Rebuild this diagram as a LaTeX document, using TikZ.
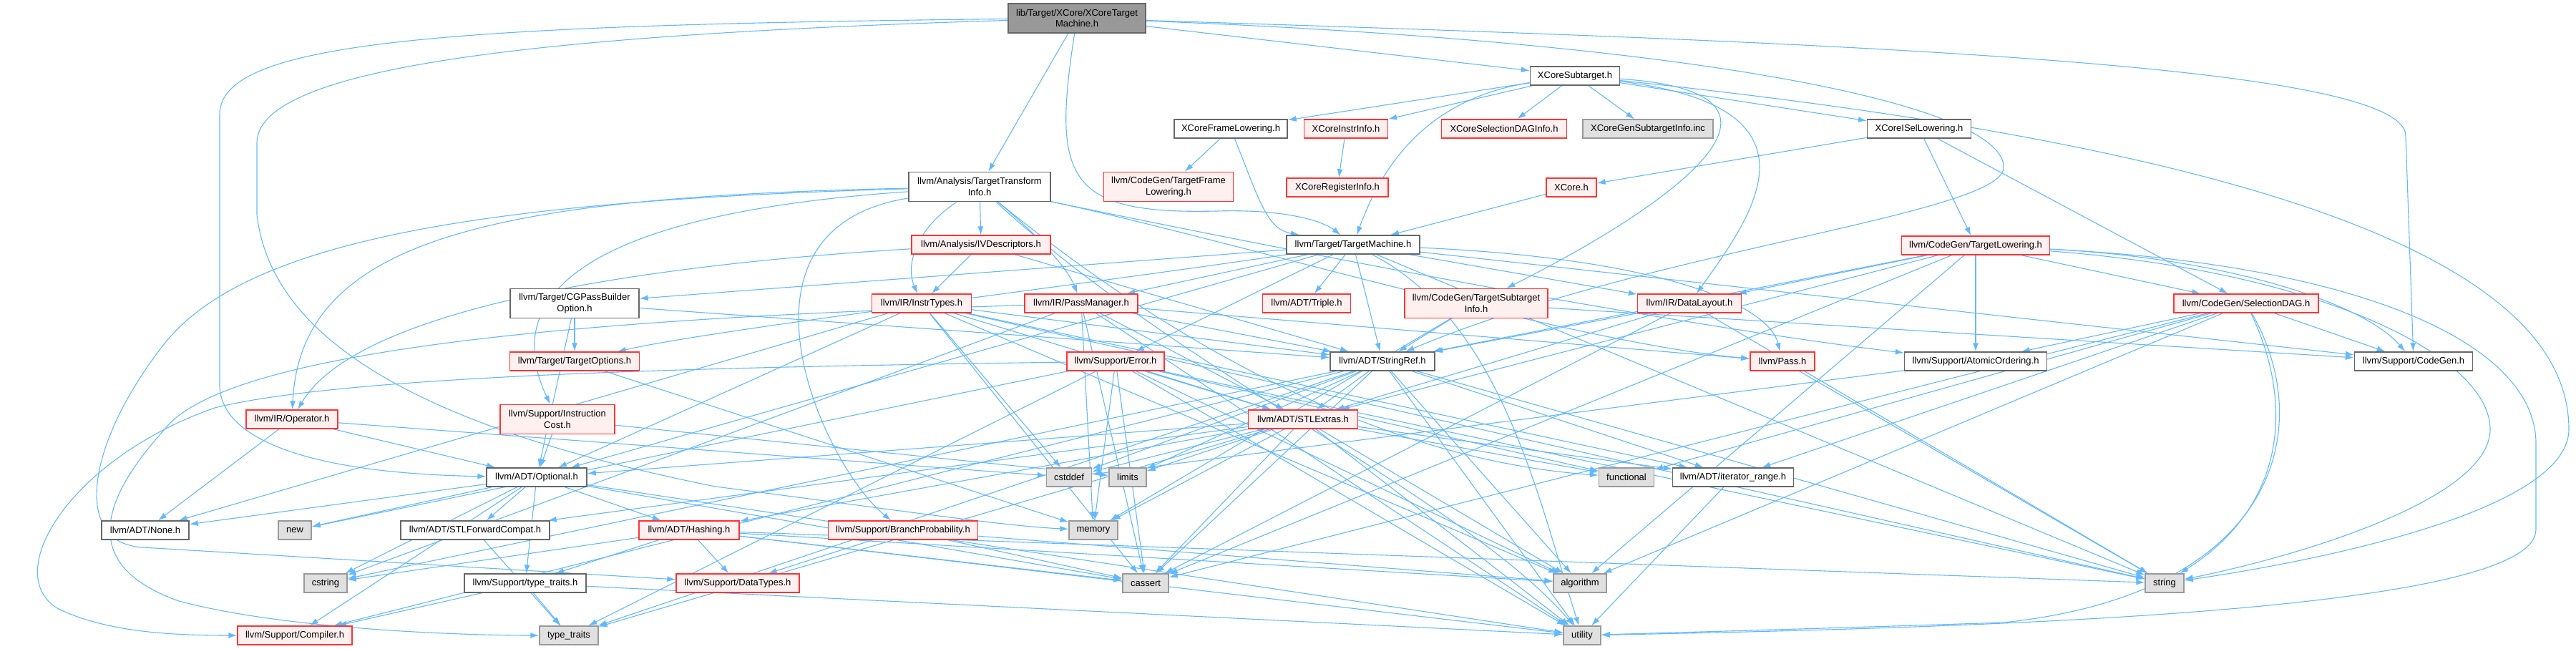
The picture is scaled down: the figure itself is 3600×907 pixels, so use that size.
\documentclass[tikz,border=0pt]{standalone}
\usepackage{fontspec}
\setmainfont{Liberation Sans}
\usetikzlibrary{arrows.meta}
\pgfdeclarelayer{edges}
\pgfsetlayers{edges,main}
\definecolor{edgec}{HTML}{63B8FF}
\definecolor{redf}{HTML}{FFF0F0}
\definecolor{redc}{HTML}{FF3333}
\definecolor{grayf}{HTML}{E0E0E0}
\definecolor{grayc}{HTML}{999999}
\definecolor{darkc}{HTML}{666666}
\definecolor{rootf}{HTML}{999999}
\begin{document}
\begin{tikzpicture}[x=1pt,y=-1pt,
  nd/.style={draw, rectangle, line width=1.3pt, inner sep=0pt, minimum height=26pt,
     font=\fontsize{13}{15.5}\selectfont, align=center},
  wb/.style={nd, fill=white, draw=darkc},
  rb/.style={nd, fill=redf, draw=redc},
  gb/.style={nd, fill=grayf, draw=grayc},
  rt/.style={nd, fill=rootf, draw=darkc},
  two/.style={minimum height=41pt},
  edg/.style={draw=edgec, line width=1.1pt, -{Latex[length=12pt,width=8pt]}}]
\useasboundingbox (0,0) rectangle (3600,907);
% nodes
\node[rt,two,minimum width=192pt] (root) at (1505,25.5) {lib/Target/XCore/XCoreTarget\\Machine.h};
\node[wb,minimum width=125pt] (sub) at (2201,106) {XCoreSubtarget.h};
\node[wb,minimum width=158pt] (xfl) at (1720,180) {XCoreFrameLowering.h};
\node[rb,minimum width=117pt] (xii) at (1881,180) {XCoreInstrInfo.h};
\node[rb,minimum width=175pt] (xsdi) at (2102,180) {XCoreSelectionDAGInfo.h};
\node[gb,minimum width=182pt] (xgen) at (2303,180) {XCoreGenSubtargetInfo.inc};
\node[wb,minimum width=145pt] (xisl) at (2682,180) {XCoreISelLowering.h};
\node[wb,two,minimum width=198pt] (tti) at (1369,261) {llvm/Analysis/TargetTransform\\Info.h};
\node[rb,two,minimum width=181pt] (tfl) at (1633,261) {llvm/CodeGen/TargetFrame\\Lowering.h};
\node[rb,minimum width=142pt] (xri) at (1869,262) {XCoreRegisterInfo.h};
\node[rb,minimum width=70pt] (xcore) at (2196,262) {XCore.h};
\node[rb,minimum width=194pt] (ivd) at (1371,342) {llvm/Analysis/IVDescriptors.h};
\node[wb,minimum width=186pt] (tm) at (1891,342) {llvm/Target/TargetMachine.h};
\node[rb,minimum width=207pt] (tlow) at (2761,343) {llvm/CodeGen/TargetLowering.h};
\node[wb,two,minimum width=180pt] (cgpb) at (803,424) {llvm/Target/CGPassBuilder\\Option.h};
\node[rb,minimum width=139pt] (instr) at (1288,424) {llvm/IR/InstrTypes.h};
\node[rb,minimum width=158pt] (pm) at (1511,424) {llvm/IR/PassManager.h};
\node[rb,minimum width=123pt] (triple) at (1826,424) {llvm/ADT/Triple.h};
\node[rb,two,minimum width=200pt] (tsi) at (2063,424) {llvm/CodeGen/TargetSubtarget\\Info.h};
\node[rb,minimum width=145pt] (dl) at (2361,424) {llvm/IR/DataLayout.h};
\node[rb,minimum width=202pt] (sdag) at (3139,424) {llvm/CodeGen/SelectionDAG.h};
\node[rb,minimum width=181pt] (topt) at (803,505) {llvm/Target/TargetOptions.h};
\node[rb,minimum width=136pt] (err) at (1559,505) {llvm/Support/Error.h};
\node[wb,minimum width=146pt] (sref) at (1932,505) {llvm/ADT/StringRef.h};
\node[rb,minimum width=90pt] (pass) at (2491,505) {llvm/Pass.h};
\node[wb,minimum width=199pt] (atom) at (2761,505) {llvm/Support/AtomicOrdering.h};
\node[wb,minimum width=165pt] (cg) at (3373,505) {llvm/Support/CodeGen.h};
\node[rb,minimum width=128pt] (op) at (408,586) {llvm/IR/Operator.h};
\node[rb,two,minimum width=160pt] (icost) at (779,586) {llvm/Support/Instruction\\Cost.h};
\node[rb,minimum width=153pt] (stl) at (1821,586) {llvm/ADT/STLExtras.h};
\node[wb,minimum width=140pt] (opt) at (750,667) {llvm/ADT/Optional.h};
\node[gb,minimum width=63pt] (cstddef) at (1494,667) {cstddef};
\node[gb,minimum width=52pt] (limits) at (1576,667) {limits};
\node[gb,minimum width=77pt] (func) at (2273,667) {functional};
\node[wb,minimum width=169pt] (itr) at (2422,667) {llvm/ADT/iterator\_range.h};
\node[wb,minimum width=122pt] (none) at (203,741) {llvm/ADT/None.h};
\node[gb,minimum width=46pt] (new) at (412,741) {new};
\node[wb,minimum width=208pt] (stlfc) at (664,741) {llvm/ADT/STLForwardCompat.h};
\node[rb,minimum width=140pt] (hash) at (963,741) {llvm/ADT/Hashing.h};
\node[rb,minimum width=209pt] (bp) at (1262,741) {llvm/Support/BranchProbability.h};
\node[gb,minimum width=68pt] (mem) at (1528,741) {memory};
\node[gb,minimum width=60pt] (cstring) at (455,815) {cstring};
\node[wb,minimum width=170pt] (stt) at (734,815) {llvm/Support/type\_traits.h};
\node[rb,minimum width=172pt] (dt) at (1031,815) {llvm/Support/DataTypes.h};
\node[gb,minimum width=64pt] (cassert) at (1601,815) {cassert};
\node[gb,minimum width=74pt] (algo) at (2208,815) {algorithm};
\node[gb,minimum width=54pt] (string) at (3025,815) {string};
\node[rb,minimum width=160pt] (comp) at (412,888) {llvm/Support/Compiler.h};
\node[gb,minimum width=82pt] (tt) at (795,888) {type\_traits};
\node[gb,minimum width=52pt] (util) at (2211,888) {utility};
\begin{pgfonlayer}{edges}
% root
\draw[edg] (root) -- (sub);
\draw[edg] (root) -- (tti);
\draw[edg] (root) .. controls (600,35) and (307,60) .. (307,160) -- (307,540) .. controls (310,620) and (450,662) .. (opt);
\draw[edg] (root) .. controls (700,50) and (359,100) .. (359,200) -- (359,300) .. controls (380,480) and (600,600) .. (1000,680) .. controls (1250,712) and (1400,735) .. (mem);
\draw[edg] (root) .. controls (2600,60) and (3362,90) .. (3362,190) -- (cg);
\draw[edg] (root) .. controls (2400,60) and (2805,150) .. (2800,235) .. controls (2795,300) and (2300,350) .. (sref);
\draw[edg] (root) .. controls (1470,250) and (1490,300) .. (1700,295) .. controls (1800,292) and (1850,310) .. (tm);
% subtarget
\draw[edg] (sub) -- (xfl);
\draw[edg] (sub) -- (xii);
\draw[edg] (sub) -- (xsdi);
\draw[edg] (sub) -- (xgen);
\draw[edg] (sub) -- (xisl);
\draw[edg] (sub) .. controls (2560,130) and (2330,290) .. (tsi);
\draw[edg] (sub) .. controls (2560,150) and (2450,300) .. (dl);
\draw[edg] (sub) .. controls (1980,140) and (1925,250) .. (tm);
\draw[edg] (sub) .. controls (3100,200) and (3590,350) .. (3590,600) .. controls (3590,720) and (3200,790) .. (string);
\draw[edg] (xfl) -- (tfl);
\draw[edg] (xfl) .. controls (1760,280) and (1770,320) .. (tm);
\draw[edg] (xii) -- (xri);
\draw[edg] (xisl) -- (xcore);
\draw[edg] (xisl) -- (tlow);
\draw[edg] (xisl) -- (sdag);
\draw[edg] (xcore) -- (tm);
% TTI
\draw[edg] (tti) -- (ivd);
\draw[edg] (tti) .. controls (1280,320) and (1265,370) .. (instr);
\draw[edg] (tti) .. controls (1440,320) and (1490,370) .. (pm);
\draw[edg] (tti) .. controls (1700,330) and (2200,480) .. (pass);
\draw[edg] (tti) .. controls (1700,330) and (2300,450) .. (atom);
\draw[edg] (tti) .. controls (1600,450) and (1900,640) .. (func);
\draw[edg] (tti) .. controls (1650,520) and (2050,700) .. (util);
\draw[edg] (tti) .. controls (1000,320) and (1150,650) .. (bp);
\draw[edg] (tti) .. controls (700,280) and (350,330) .. (230,480) .. controls (120,620) and (100,760) .. (200,765) -- (dt);
\draw[edg] (tti) .. controls (800,300) and (700,420) .. (icost);
\draw[edg] (tti) .. controls (700,275) and (420,330) .. (op);
% IVDescriptors
\draw[edg] (ivd) -- (sref);
\draw[edg] (ivd) -- (instr);
\draw[edg] (ivd) .. controls (900,370) and (500,430) .. (op);
% TargetMachine
\draw[edg] (tm) -- (opt);
\draw[edg] (tm) -- (sref);
\draw[edg] (tm) -- (triple);
\draw[edg] (tm) -- (dl);
\draw[edg] (tm) -- (pm);
\draw[edg] (tm) .. controls (2300,360) and (2470,420) .. (pass);
\draw[edg] (tm) -- (cg);
\draw[edg] (tm) -- (err);
\draw[edg] (tm) -- (cgpb);
\draw[edg] (tm) .. controls (1500,400) and (1000,460) .. (topt);
\draw[edg] (tm) -- (string);
\draw[edg] (tm) .. controls (2100,450) and (2150,700) .. (util);
% InstrTypes
\draw[edg] (instr) -- (none);
\draw[edg] (instr) -- (opt);
\draw[edg] (instr) -- (stl);
\draw[edg] (instr) -- (sref);
\draw[edg] (instr) -- (itr);
\draw[edg] (instr) -- (algo);
\draw[edg] (instr) -- (cassert);
\draw[edg] (instr) -- (cstddef);
\draw[edg] (instr) -- (string);
% PassManager
\draw[edg] (pm) -- (stl);
\draw[edg] (pm) -- (sref);
\draw[edg] (pm) -- (pass);
\draw[edg] (pm) -- (cassert);
\draw[edg] (pm) -- (cstring);
\draw[edg] (pm) -- (mem);
\draw[edg] (pm) .. controls (1000,440) and (330,470) .. (230,600) .. controls (140,700) and (110,790) .. (250,840) .. controls (400,880) and (650,888) .. (tt);
\draw[edg] (pm) -- (util);
% CGPassBuilderOption, TargetOptions
\draw[edg] (cgpb) -- (opt);
\draw[edg] (cgpb) -- (sref);
\draw[edg] (cgpb) -- (topt);
\draw[edg] (topt) -- (mem);
% TargetSubtargetInfo, DataLayout, Pass
\draw[edg] (tsi) -- (sref);
\draw[edg] (tsi) -- (cg);
\draw[edg] (tsi) -- (mem);
\draw[edg] (dl) -- (stl);
\draw[edg] (dl) -- (sref);
\draw[edg] (dl) -- (cassert);
\draw[edg] (dl) -- (string);
\draw[edg] (pass) -- (string);
% TargetLowering
\draw[edg] (tlow) -- (sref);
\draw[edg] (tlow) -- (sdag);
\draw[edg] (tlow) -- (dl);
\draw[edg] (tlow) -- (atom);
\draw[edg] (tlow) -- (algo);
\draw[edg] (tlow) -- (cassert);
\draw[edg] (tlow) -- (stl);
\draw[edg] (tlow) .. controls (3100,360) and (3300,420) .. (cg);
\draw[edg] (tlow) .. controls (3250,380) and (3480,500) .. (3480,600) .. controls (3480,700) and (3200,780) .. (string);
\draw[edg] (tlow) .. controls (3300,370) and (3544,480) .. (3544,620) -- (3544,740) .. controls (3544,860) and (2700,878) .. (util);
% SelectionDAG
\draw[edg] (sdag) -- (atom);
\draw[edg] (sdag) -- (cg);
\draw[edg] (sdag) -- (itr);
\draw[edg] (sdag) -- (cassert);
\draw[edg] (sdag) -- (func);
\draw[edg] (sdag) -- (algo);
\draw[edg] (sdag) .. controls (3200,550) and (3205,700) .. (string);
\draw[edg] (sdag) .. controls (3240,600) and (3180,830) .. (2800,870) .. controls (2500,880) and (2300,885) .. (util);
% Error
\draw[edg] (err) -- (stl);
\draw[edg] (err) .. controls (1100,512) and (500,520) .. (300,570) .. controls (100,640) and (0,800) .. (80,850) .. controls (150,885) and (250,888) .. (comp);
\draw[edg] (err) -- (algo);
\draw[edg] (err) -- (cassert);
\draw[edg] (err) -- (func);
\draw[edg] (err) -- (mem);
\draw[edg] (err) -- (new);
\draw[edg] (err) -- (string);
\draw[edg] (err) -- (tt);
\draw[edg] (err) -- (util);
% StringRef
\draw[edg] (sref) -- (stl);
\draw[edg] (sref) -- (itr);
\draw[edg] (sref) -- (comp);
\draw[edg] (sref) -- (algo);
\draw[edg] (sref) -- (cassert);
\draw[edg] (sref) -- (cstddef);
\draw[edg] (sref) -- (cstring);
\draw[edg] (sref) -- (limits);
\draw[edg] (sref) -- (string);
\draw[edg] (sref) -- (tt);
\draw[edg] (sref) -- (util);
% STLExtras
\draw[edg] (stl) -- (hash);
\draw[edg] (stl) -- (opt);
\draw[edg] (stl) -- (stlfc);
\draw[edg] (stl) -- (itr);
\draw[edg] (stl) -- (algo);
\draw[edg] (stl) -- (cassert);
\draw[edg] (stl) -- (cstddef);
\draw[edg] (stl) -- (func);
\draw[edg] (stl) -- (limits);
\draw[edg] (stl) -- (mem);
\draw[edg] (stl) -- (tt);
\draw[edg] (stl) -- (util);
% Optional
\draw[edg] (opt) -- (hash);
\draw[edg] (opt) -- (none);
\draw[edg] (opt) -- (stlfc);
\draw[edg] (opt) -- (comp);
\draw[edg] (opt) -- (stt);
\draw[edg] (opt) -- (cassert);
\draw[edg] (opt) -- (cstring);
\draw[edg] (opt) -- (new);
\draw[edg] (opt) -- (util);
% Operator, InstructionCost
\draw[edg] (op) -- (none);
\draw[edg] (op) -- (opt);
\draw[edg] (op) -- (cstddef);
\draw[edg] (icost) -- (opt);
\draw[edg] (icost) -- (limits);
% Hashing, BranchProbability
\draw[edg] (hash) -- (dt);
\draw[edg] (hash) -- (stt);
\draw[edg] (hash) -- (algo);
\draw[edg] (hash) -- (cassert);
\draw[edg] (hash) -- (cstring);
\draw[edg] (hash) -- (string);
\draw[edg] (hash) -- (util);
\draw[edg] (bp) -- (dt);
\draw[edg] (bp) -- (algo);
\draw[edg] (bp) -- (cassert);
% small ones
\draw[edg] (stlfc) -- (tt);
\draw[edg] (stt) -- (comp);
\draw[edg] (stt) -- (tt);
\draw[edg] (stt) -- (util);
\draw[edg] (itr) -- (util);
\draw[edg] (atom) -- (cstddef);
\end{pgfonlayer}
\end{tikzpicture}
\end{document}
